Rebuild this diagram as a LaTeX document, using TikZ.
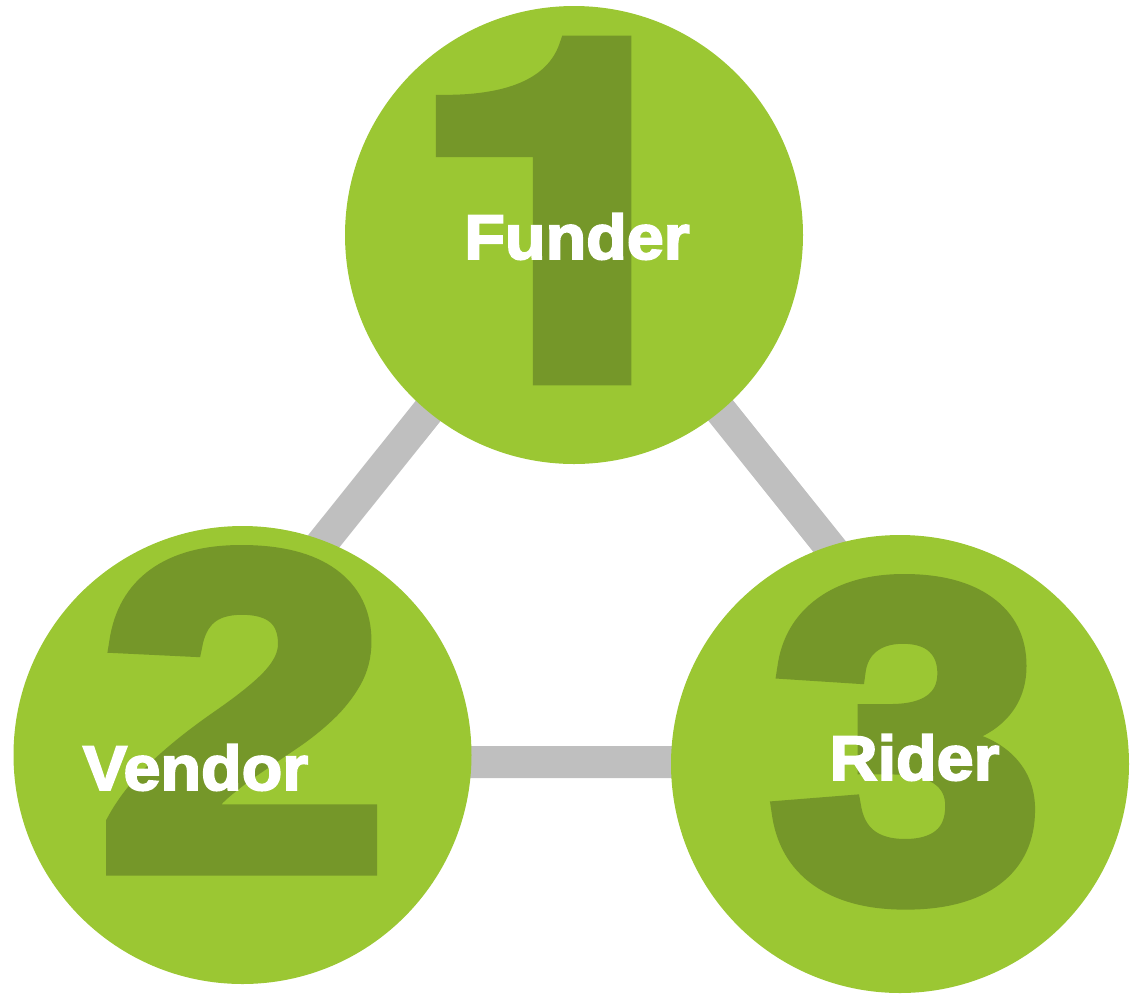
\documentclass[tikz,border=0pt]{standalone}
\usepackage{fontspec}
\setmainfont{Liberation Sans}
\newfontfamily\digitfontOne[FakeBold=4,FakeStretch=1.22]{TeX Gyre Heros Bold}
\newfontfamily\digitfontTwo[FakeBold=4.8,FakeStretch=1.17]{Liberation Sans Bold}
\newfontfamily\digitfontThree[FakeBold=4.8,FakeStretch=1.10]{Liberation Sans Bold}
\newfontfamily\labelfont[FakeBold=3,FakeStretch=1.055]{Liberation Sans Bold}
\definecolor{lightgreen}{RGB}{155,199,51}
\definecolor{darkgreen}{RGB}{117,151,41}
\definecolor{linkgray}{RGB}{191,191,191}
\tikzset{
  party/.style={circle, fill=lightgreen, minimum size=458pt, inner sep=0pt, draw=none},
  bignum/.style={text=darkgreen, inner sep=0pt, anchor=base},
  partylabel/.style={text=white, inner sep=0pt, anchor=base, font=\labelfont\fontsize{63pt}{63pt}\selectfont},
  link/.style={draw=linkgray, line width=32pt, line join=miter}
}
\begin{document}
\begin{tikzpicture}[x=1pt,y=-1pt]
\useasboundingbox (0,0) rectangle (1132,994);
% triangle vertices
\coordinate (tA) at (574.6,228);
\coordinate (tB) at (147,762);
\coordinate (tC) at (1002,762);
\draw[link] (tA) -- (tB) -- (tC) -- cycle;
% circles
\node[party] (funder) at (574,235) {};
\node[party] (vendor) at (242.5,755) {};
\node[party] (rider) at (900,764) {};
% numbers
\node[bignum, font=\digitfontOne\fontsize{467pt}{467pt}\selectfont] (n1) at (565,376) {1};
\node[bignum, font=\digitfontTwo\fontsize{443pt}{443pt}\selectfont] (n2) at (243,865) {2};
\node[bignum, font=\digitfontThree\fontsize{443pt}{443pt}\selectfont] (n3) at (906.5,894) {3};
% labels
\node[partylabel] (lf) at (577,259) {Funder};
\node[partylabel] (lv) at (195.5,790) {Vendor};
\node[partylabel] (lr) at (914.5,780) {Rider};
\end{tikzpicture}
\end{document}
